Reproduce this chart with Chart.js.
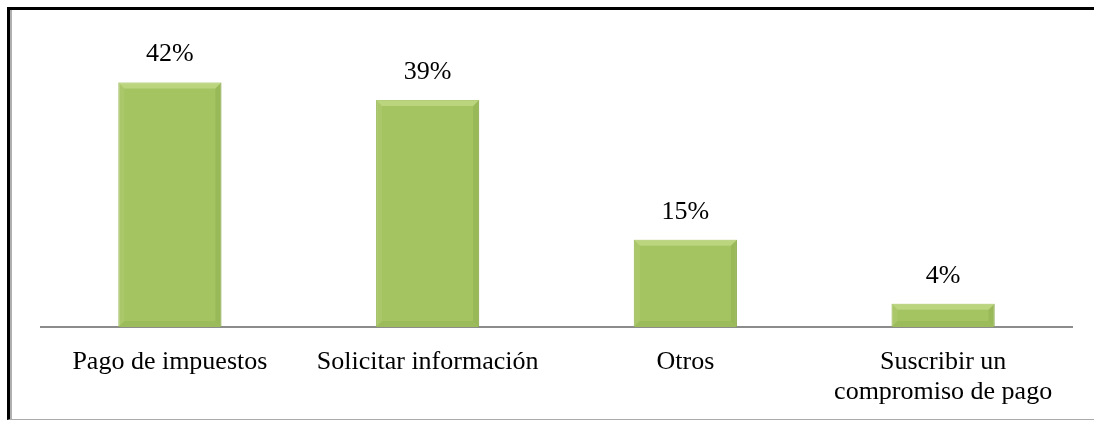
<!DOCTYPE html>
<html>
<head>
    <meta charset="utf-8">
    <title>Motivos de visita</title>
    <script src="https://cdn.jsdelivr.net/npm/chart.js"></script>
    <style>
        body { margin: 0; background: #fff; }
        #wrap {
            position: relative;
            width: 1094px;
            height: 423px;
        }
        #frame {
            position: absolute;
            left: 7px;
            top: 7px;
            width: 1087px;
            height: 413px;
            box-sizing: border-box;
            border-top: 3px solid #000;
            border-left: 3px solid #000;
            border-bottom: 1px solid #aaa;
            box-shadow: inset 2px 0 0 #b0b0b0;
            pointer-events: none;
        }
        canvas { position: absolute; left: 0; top: 0; }
    </style>
</head>
<body>
    <div id="wrap">
        <canvas id="chart" width="1094" height="423"></canvas>
        <div id="frame"></div>
    </div>
    <script>
        const categories = [
            'Pago de impuestos',
            'Solicitar información',
            'Otros',
            ['Suscribir un', 'compromiso de pago']
        ];
        const values = [42, 39, 15, 4];
        const valueLabels = ['42%', '39%', '15%', '4%'];

        const serif = "'Liberation Serif', 'Times New Roman', serif";

        // soft bevel like the office chart
        const bevelPlugin = {
            id: 'bevel',
            afterDatasetDraw(chart) {
                const ctx = chart.ctx;
                const meta = chart.getDatasetMeta(0);
                meta.data.forEach(function(bar) {
                    const left = bar.x - bar.width / 2;
                    const right = bar.x + bar.width / 2;
                    const top = bar.y;
                    const bottom = bar.base;
                    const b = Math.min(6, (bottom - top) / 2);
                    ctx.save();
                    ctx.fillStyle = 'rgba(205,228,150,0.55)';
                    ctx.beginPath();
                    ctx.moveTo(left, top); ctx.lineTo(right, top);
                    ctx.lineTo(right - b, top + b); ctx.lineTo(left + b, top + b);
                    ctx.closePath(); ctx.fill();
                    ctx.fillStyle = 'rgba(185,210,125,0.3)';
                    ctx.beginPath();
                    ctx.moveTo(left, top); ctx.lineTo(left + b, top + b);
                    ctx.lineTo(left + b, bottom - b); ctx.lineTo(left, bottom);
                    ctx.closePath(); ctx.fill();
                    ctx.fillStyle = 'rgba(120,150,60,0.25)';
                    ctx.beginPath();
                    ctx.moveTo(right, top); ctx.lineTo(right - b, top + b);
                    ctx.lineTo(right - b, bottom - b); ctx.lineTo(right, bottom);
                    ctx.closePath(); ctx.fill();
                    ctx.fillStyle = 'rgba(125,155,60,0.2)';
                    ctx.beginPath();
                    ctx.moveTo(left, bottom); ctx.lineTo(left + b, bottom - b);
                    ctx.lineTo(right - b, bottom - b); ctx.lineTo(right, bottom);
                    ctx.closePath(); ctx.fill();
                    ctx.restore();
                });
            }
        };

        const valueLabelPlugin = {
            id: 'valueLabels',
            afterDatasetsDraw(chart) {
                const ctx = chart.ctx;
                const meta = chart.getDatasetMeta(0);
                ctx.save();
                ctx.font = '26px ' + serif;
                ctx.fillStyle = '#000';
                ctx.textAlign = 'center';
                ctx.textBaseline = 'middle';
                meta.data.forEach(function(bar, i) {
                    ctx.fillText(valueLabels[i], bar.x, bar.y - 28);
                });
                ctx.restore();
            }
        };

        const ctx = document.getElementById('chart').getContext('2d');
        new Chart(ctx, {
            type: 'bar',
            data: {
                labels: categories,
                datasets: [{
                    data: values,
                    backgroundColor: '#a4c462',
                    borderColor: '#93b352',
                    borderWidth: 1,
                    categoryPercentage: 1,
                    barPercentage: 0.4
                }]
            },
            options: {
                responsive: false,
                animation: false,
                layout: {
                    padding: { left: 41, right: 22, top: 36, bottom: 0 }
                },
                plugins: {
                    legend: { display: false },
                    tooltip: { enabled: false }
                },
                scales: {
                    x: {
                        grid: { display: false, drawTicks: false },
                        border: { display: true, color: '#8c8c8c', width: 2 },
                        ticks: {
                            color: '#000',
                            padding: 20,
                            maxRotation: 0,
                            autoSkip: false,
                            font: { family: serif, size: 26, lineHeight: 1.15 }
                        },
                        afterFit: function(scale) { scale.height = 96; }
                    },
                    y: {
                        display: false,
                        min: 0,
                        max: 50
                    }
                }
            },
            plugins: [bevelPlugin, valueLabelPlugin]
        });
    </script>
</body>
</html>
